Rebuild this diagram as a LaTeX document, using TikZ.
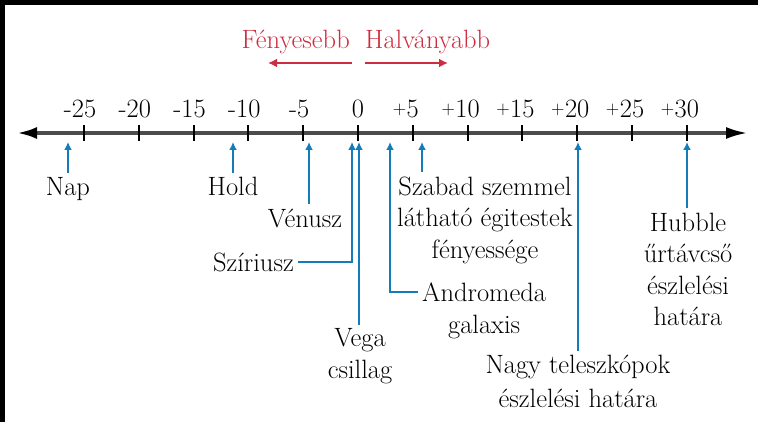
\documentclass[tikz,border=0pt]{standalone}
\usepackage{graphicx}
\usetikzlibrary{arrows.meta,positioning}

\definecolor{skyblue}{RGB}{20,125,185}
\definecolor{brightred}{RGB}{205,45,65}
\newcommand{\pl}{\llap{\raisebox{3.2pt}{\scalebox{0.7}{+}}\kern0.5pt}}
\newcommand{\mn}{\llap{-}}

\tikzset{
  lab/.style={font=\fontsize{26.5}{31.5}\selectfont, inner sep=4pt, align=center},
  obj/.style={draw=skyblue, line width=2pt, -{Latex[length=8pt,width=8pt]}},
  brt/.style={draw=brightred, line width=2.5pt, -{Latex[length=9pt,width=9pt]}},
  axisline/.style={draw=black!70, line width=3.5pt,
    {Latex[length=20pt,width=12pt,color=black]}-{Latex[length=22pt,width=12pt,color=black]}},
  tickmark/.style={draw=black, line width=2pt}
}

\begin{document}
\begin{tikzpicture}[x=1pt,y=-1pt]
\useasboundingbox (0,0) rectangle (758,422);
\fill[black] (0,0) rectangle (758,5);
\fill[black] (0,0) rectangle (5,422);

% brighter / fainter
\node[lab, text=brightred, anchor=base east] (fenyesebb) at (354,49) {Fényesebb};
\node[lab, text=brightred, anchor=base west] (halvanyabb) at (361,49) {Halványabb};
\coordinate (brA) at (352,63);
\coordinate (brB) at (268,63);
\coordinate (hvA) at (365,63);
\coordinate (hvB) at (448,63);
\draw[brt] (brA) -- (brB);
\draw[brt] (hvA) -- (hvB);

% magnitude axis
\coordinate (axl) at (17,133);
\coordinate (axr) at (748,133);
\draw[axisline] (axl) -- (axr);

\foreach \m/\t in {-25/\mn25,-20/\mn20,-15/\mn15,-10/\mn10,-5/\mn5,0/0,
                   5/\pl5,10/\pl10,15/\pl15,20/\pl20,25/\pl25,30/\pl30}{
\draw[tickmark] ({358+10.96*\m},125) -- ({358+10.96*\m},141);
\node[lab, anchor=base] (m\m) at ({358+10.96*\m},118) {\t};
}

% objects
\coordinate (pnap) at (68,142);
\coordinate (phold) at (233,142);
\coordinate (pvenusz) at (309,142);
\coordinate (psziriusz) at (352,142);
\coordinate (pvega) at (359,142);
\coordinate (pandromeda) at (390,142);
\coordinate (pszabad) at (422,142);
\coordinate (pnagy) at (578,142);
\coordinate (phubble) at (687,142);

\node[lab, anchor=north] (nap) at (68,173) {Nap};
\node[lab, anchor=north] (hold) at (233,173) {Hold};
\node[lab, anchor=north] (venusz) at (305,204.5) {Vénusz};
\node[lab, anchor=east] (sziriusz) at (298,262) {Szíriusz};
\node[lab, anchor=north] (vega) at (360,324.5) {Vega\\csillag};
\node[lab, anchor=west] (andromeda) at (418,292) {Andromeda};
\node[lab, below=5pt of andromeda] (galaxis) {galaxis};
\node[lab, anchor=north] (szabad) at (485,172.5) {Szabad szemmel\\látható égitestek\\fényessége};
\node[lab, anchor=north, font=\fontsize{26.5}{33.5}\selectfont] (nagy) at (578,351) {Nagy teleszkópok\\észlelési határa};
\node[lab, anchor=north] (hubble) at (688,208.5) {Hubble\\űrtávcső\\észlelési\\határa};

\draw[obj] (nap.north) -- (pnap);
\draw[obj] (hold.north) -- (phold);
\draw[obj] (venusz.north -| pvenusz) -- (pvenusz);
\draw[obj] (sziriusz.east) -| (psziriusz);
\draw[obj] (vega.north -| pvega) -- (pvega);
\draw[obj] (andromeda.west) -| (pandromeda);
\draw[obj] (szabad.north -| pszabad) -- (pszabad);
\draw[obj] (nagy.north) -- (pnagy);
\draw[obj] (hubble.north -| phubble) -- (phubble);
\end{tikzpicture}
\end{document}
